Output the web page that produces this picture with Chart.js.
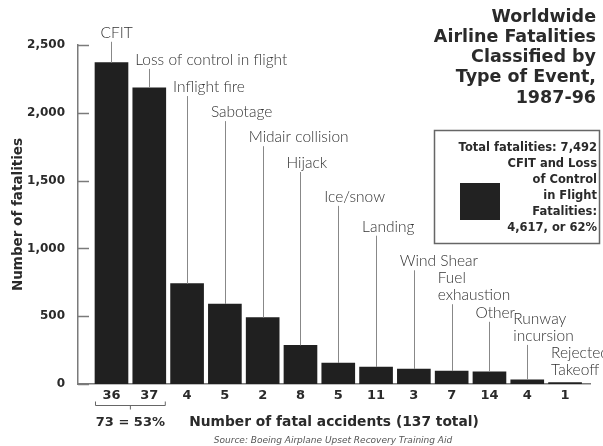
<!DOCTYPE html>
<html>
<head>
<meta charset="utf-8">
<script src="https://cdn.jsdelivr.net/npm/chart.js@4/dist/chart.umd.min.js"></script>
<style>
    html, body { margin: 0; padding: 0; background: #fff; }
    #wrap { width: 603px; height: 446px; }
</style>
</head>
<body>
<div id="wrap"><canvas id="chart" width="603" height="446"></canvas></div>
<script>
const categories = [
    ["CFIT"],
    ["Loss of control in flight"],
    ["Inflight fire"],
    ["Sabotage"],
    ["Midair collision"],
    ["Hijack"],
    ["Ice/snow"],
    ["Landing"],
    ["Wind Shear"],
    ["Fuel", "exhaustion"],
    ["Other"],
    ["Runway", "incursion"],
    ["Rejected", "Takeoff"]
];
const fatalities = [2370, 2185, 740, 590, 490, 285, 155, 125, 110, 95, 90, 30, 10];
const accidents = [36, 37, 4, 5, 2, 8, 5, 11, 3, 7, 14, 4, 1];
const yTicks = [0, 500, 1000, 1500, 2000, 2500];

const titleLines = ["Worldwide", "Airline Fatalities", "Classified by", "Type of Event,", "1987-96"];
const boxLines = ["Total fatalities: 7,492", "CFIT and Loss", "of Control", "in Flight", "Fatalities:", "4,617, or 62%"];
const bracketNote = "73 = 53%";
const xTitle = "Number of fatal accidents (137 total)";
const yTitle = "Number of fatalities";
const sourceNote = "Source: Boeing Airplane Upset Recovery Training Aid";

// height of each event label, in fatalities on the y scale
const labelLevels = [2590, 2390, 2190, 2005, 1820, 1630, 1380, 1160, 905, 780, 525, 480, 230];

const ink = "#2a2a2a";
const rule = "#7a7a7a";

const decor = {
    id: "decor",
    afterDraw(chart) {
        const { ctx, chartArea, scales: { x, y } } = chart;
        ctx.save();

        // short ticks pointing into the plot
        ctx.strokeStyle = rule;
        ctx.lineWidth = 1.5;
        yTicks.forEach((v) => {
            const py = Math.round(y.getPixelForValue(v)) + 0.5;
            ctx.beginPath();
            ctx.moveTo(chartArea.left, py);
            ctx.lineTo(chartArea.left + 11, py);
            ctx.stroke();
        });

        // event labels with leader lines
        ctx.font = "300 15.5px Lato";
        ctx.fillStyle = "#333";
        ctx.textBaseline = "middle";
        ctx.textAlign = "left";
        ctx.lineWidth = 1;
        ctx.strokeStyle = "#888";
        categories.forEach((lines, i) => {
            const cx = x.getPixelForValue(i);
            const ty = y.getPixelForValue(labelLevels[i]);
            const lx = i === 0 ? cx - 11 : cx - 14;
            lines.forEach((t, k) => ctx.fillText(t, lx, ty + k * 17));
            const top = ty + (lines.length - 1) * 17 + 9;
            const barTop = y.getPixelForValue(fatalities[i]);
            if (barTop - top > 6) {
                ctx.beginPath();
                ctx.moveTo(Math.round(cx) + 0.5, top);
                ctx.lineTo(Math.round(cx) + 0.5, barTop);
                ctx.stroke();
            }
        });

        // bracket under the first two counts
        const bx0 = x.getPixelForValue(0) - 16;
        const bx1 = x.getPixelForValue(1) + 16;
        const by = 405.5;
        ctx.strokeStyle = "#666";
        ctx.beginPath();
        ctx.moveTo(bx0, by - 4);
        ctx.lineTo(bx0, by);
        ctx.lineTo(bx1, by);
        ctx.lineTo(bx1, by - 4);
        ctx.moveTo((bx0 + bx1) / 2, by);
        ctx.lineTo((bx0 + bx1) / 2, by + 4);
        ctx.stroke();
        ctx.font = "bold 13px 'DejaVu Sans'";
        ctx.fillStyle = ink;
        ctx.textAlign = "center";
        ctx.fillText(bracketNote, (bx0 + bx1) / 2, 423);

        // source line
        ctx.font = "italic 9px 'DejaVu Sans'";
        ctx.fillStyle = "#555";
        ctx.fillText(sourceNote, 333, 441);

        // title, top right
        ctx.font = "bold 17.5px 'DejaVu Sans'";
        ctx.fillStyle = ink;
        ctx.textAlign = "right";
        titleLines.forEach((t, k) => ctx.fillText(t, 596, 17 + k * 20.3));

        // summary box
        ctx.strokeStyle = "#666";
        ctx.lineWidth = 1.5;
        ctx.strokeRect(434.5, 130.5, 165, 113);
        ctx.fillStyle = "#222";
        ctx.fillRect(460, 183, 40, 37);
        ctx.font = "bold 11.5px 'DejaVu Sans'";
        ctx.fillStyle = ink;
        boxLines.forEach((t, k) => ctx.fillText(t, 597, 148 + k * 16));

        ctx.restore();
    }
};

new Chart(document.getElementById("chart"), {
    type: "bar",
    data: {
        datasets: [
            {
                data: fatalities.map((v, i) => ({ x: i, y: v })),
                backgroundColor: "#202020",
                borderWidth: 0,
                barThickness: 33
            }
        ]
    },
    options: {
        responsive: false,
        animation: false,
        events: [],
        layout: { padding: { top: 45, right: 13, left: 0, bottom: 0 } },
        plugins: {
            legend: { display: false },
            tooltip: { enabled: false }
        },
        scales: {
            x: {
                type: "linear",
                offset: false,
                min: -0.886,
                max: 12.66,
                afterBuildTicks: (scale) => {
                    scale.ticks = accidents.map((_, i) => ({ value: i }));
                },
                afterFit: (scale) => {
                    scale.height = 62;
                },
                grid: { display: false, offset: false },
                border: { display: true, color: rule, width: 1.5 },
                ticks: {
                    padding: -4,
                    color: ink,
                    font: { family: "DejaVu Sans", size: 13, weight: "bold" },
                    callback: (v) => String(accidents[v])
                },
                title: {
                    display: true,
                    text: xTitle,
                    color: ink,
                    font: { family: "DejaVu Sans", size: 13.8, weight: "bold" },
                    padding: { top: 0, bottom: 15 }
                }
            },
            y: {
                min: 0,
                max: 2500,
                afterBuildTicks: (scale) => {
                    scale.ticks = yTicks.map((v) => ({ value: v }));
                },
                afterFit: (scale) => {
                    scale.width = 78;
                },
                grid: { display: false },
                border: { display: true, color: rule, width: 1.5 },
                ticks: {
                    padding: 5,
                    color: ink,
                    font: { family: "DejaVu Sans", size: 12, weight: "bold" }
                },
                title: {
                    display: true,
                    text: yTitle,
                    color: ink,
                    font: { family: "DejaVu Sans", size: 13.5, weight: "bold" },
                    padding: { top: 10, bottom: 0 }
                }
            }
        }
    },
    plugins: [decor]
});
</script>
</body>
</html>
